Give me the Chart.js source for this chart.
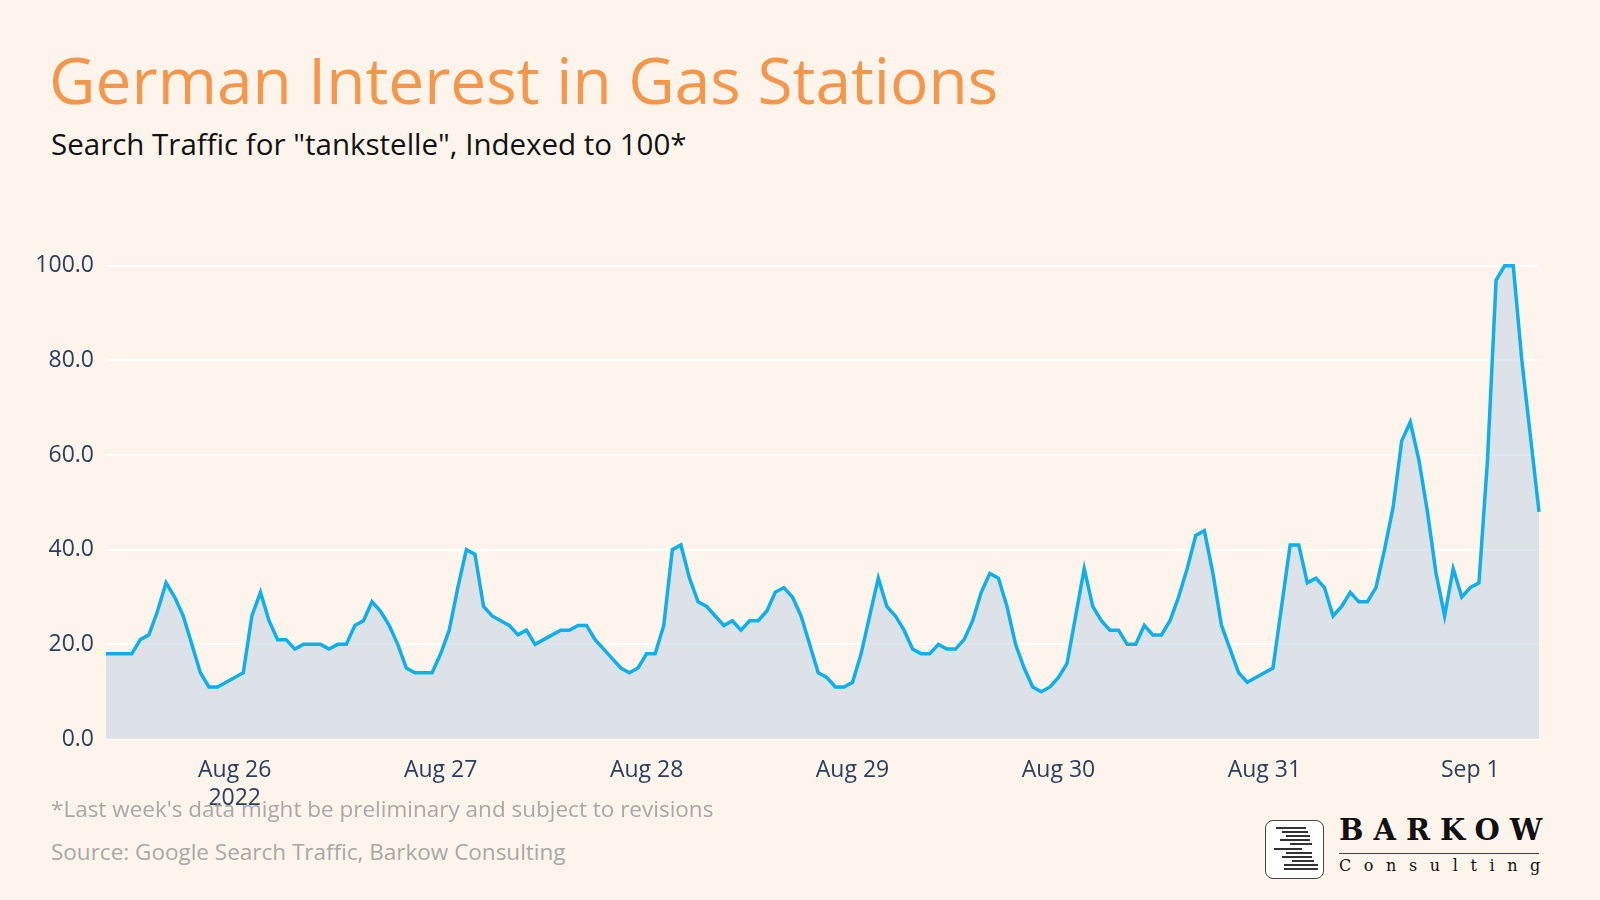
<!DOCTYPE html>
<html>
<head>
<meta charset="utf-8">
<script src="https://cdn.jsdelivr.net/npm/chart.js@4"></script>
<style>
  body { margin:0; width:1600px; height:900px; background:#fdf5ec; font-family:"Open Sans", sans-serif; position:relative; overflow:hidden; }
  #title { position:absolute; left:49px; top:36px; font-size:64px; color:#f5964a; }
  #sub { position:absolute; left:51px; top:123px; font-size:29.5px; color:#111; }
  #wrap { position:absolute; left:0; top:240px; width:1549px; height:569px; }
  .note { position:absolute; left:51px; font-size:22.5px; color:#a8a8a8; }
  #logo { position:absolute; left:1265px; top:820px; width:280px; height:60px; }
  #logo .box { position:absolute; left:0; top:0; width:57px; height:57px; border:1.5px solid #444; border-radius:8px; background:#fff; overflow:hidden; }
  #logo .box i { position:absolute; height:2px; background:#333; }
  #logo .big { position:absolute; left:74px; top:-7px; font-family:"DejaVu Serif", serif; font-weight:bold; font-size:29px; letter-spacing:10px; color:#111; }
  #logo .line { position:absolute; left:74px; top:33px; width:200px; border-top:1.5px solid #444; }
  #logo .small { position:absolute; left:74px; top:36px; font-family:"DejaVu Serif", serif; font-size:16px; letter-spacing:12.6px; color:#111; }
</style>
</head>
<body>
<div id="title">German Interest in Gas Stations</div>
<div id="sub">Search Traffic for "tankstelle", Indexed to 100*</div>
<div id="wrap"><canvas id="chart"></canvas></div>
<div class="note" style="top:793px">*Last week's data might be preliminary and subject to revisions</div>
<div class="note" style="top:836px">Source: Google Search Traffic, Barkow Consulting</div>
<div id="logo"><div class="box" id="box"></div><div class="big">BARKOW</div><div class="line"></div><div class="small">Consulting</div></div>
<script>
// hourly series, first point Aug 25 2022 09:00
const startHour = 9;
const values = [
  18,18,18,18,21,22,27,33,30,26,20,14,11,11,12,13,14,
  26,31,25,21,21,19,20,20,20,19,20,20,24,25,29,27,24,20,15,14,14,14,
  18,23,32,40,39,28,26,25,24,22,23,20,21,22,23,23,24,24,21,19,17,15,14,15,18,18,24,
  40,41,34,29,28,26,24,25,23,25,25,27,31,32,30,26,20,14,13,11,11,12,18,26,34,
  28,26,23,19,18,18,20,19,19,21,25,31,35,34,28,20,15,11,10,11,13,16,26,36,
  28,25,23,23,20,20,24,22,22,25,30,36,43,44,35,24,19,14,12,13,14,15,
  28,41,41,33,34,32,26,28,31,29,29,32,40,49,63,67,59,48,35,26,36,30,32,33,59,97,100,100,80,64,48
];
const dayNames = ["Aug 25","Aug 26","Aug 27","Aug 28","Aug 29","Aug 30","Aug 31","Sep 1"];

// logo stripes
const stripes = [[10,30,6],[16,26,10],[20,24,14],[14,30,18],[24,22,22],[8,28,27],[20,26,31],[16,30,35],[26,22,39],[18,34,43],[18,34,47]];
stripes.forEach(s => {
  const el = document.createElement("i");
  el.style.left = s[0] + "px"; el.style.width = s[1] + "px"; el.style.top = s[2] + "px";
  document.getElementById("box").appendChild(el);
});

const labels = values.map((v, i) => {
  const h = startHour + i;
  return (h % 24 === 0) ? dayNames[Math.floor(h / 24)] : "";
});

new Chart(document.getElementById("chart"), {
  type: "line",
  data: {
    labels,
    datasets: [{
      data: values,
      borderColor: "#0db0ec",
      borderWidth: 3.5,
      backgroundColor: "rgba(200,213,232,0.6)",
      fill: "origin",
      pointRadius: 0,
      tension: 0,
      clip: false
    }]
  },
  options: {
    responsive: true,
    maintainAspectRatio: false,
    animation: false,
    layout: { padding: { top: 4, right: 2 } },
    plugins: { legend: { display: false }, tooltip: { enabled: false } },
    scales: {
      x: {
        grid: { display: false },
        border: { display: false },
        afterFit: a => { a.height = 70; },
        ticks: {
          autoSkip: false, maxRotation: 0, color: "#2a3f5f", padding: 10,
          font: { family: "Open Sans", size: 23 },
          callback: function(v) {
            const l = labels[v];
            if (l === "Aug 26") return ["Aug 26", "2022"];
            return l;
          }
        }
      },
      y: {
        min: 0, max: 100,
        afterFit: a => { a.width = 106; },
        grid: { color: "#ffffff", lineWidth: 2, drawTicks: false },
        border: { display: false },
        ticks: {
          stepSize: 20, color: "#2a3f5f", padding: 12,
          font: { family: "Open Sans", size: 23 },
          callback: v => v.toFixed(1)
        }
      }
    }
  }
});
</script>
</body>
</html>
